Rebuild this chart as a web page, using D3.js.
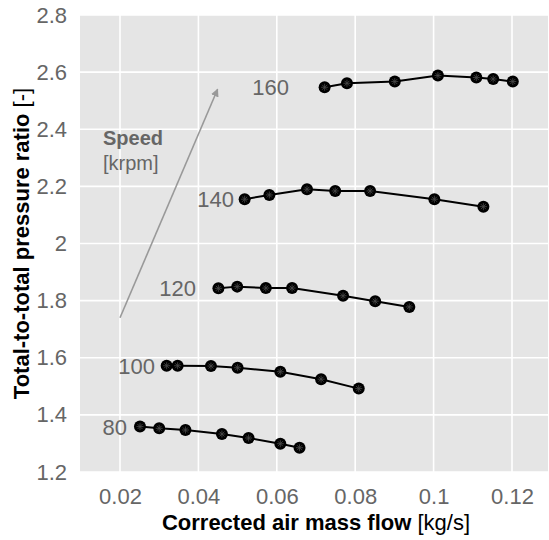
<!DOCTYPE html>
<html>
<head>
<meta charset="utf-8">
<script src="https://cdn.jsdelivr.net/npm/d3@7"></script>
<style>
    body { margin: 0; background: #fff; }
    svg text { font-family: "Liberation Sans", Arial, Helvetica, sans-serif; }
</style>
</head>
<body>
<div id="chart"></div>
<script>
// speed lines [krpm]
const speeds = [80, 100, 120, 140, 160]

// corrected air mass flow [kg/s] per speed line
const flow80 = [0.0251, 0.0300, 0.0367, 0.0460, 0.0528, 0.0609, 0.0658]
const flow100 = [0.0319, 0.0347, 0.0432, 0.0500, 0.0609, 0.0713, 0.0809]
const flow120 = [0.0451, 0.0499, 0.0572, 0.0639, 0.0769, 0.0851, 0.0938]
const flow140 = [0.0518, 0.0581, 0.0677, 0.0749, 0.0838, 0.1002, 0.1127]
const flow160 = [0.0722, 0.0779, 0.0901, 0.1011, 0.1109, 0.1152, 0.1202]

// total-to-total pressure ratio per speed line
const pr80 = [1.359, 1.353, 1.347, 1.333, 1.319, 1.299, 1.285]
const pr100 = [1.572, 1.572, 1.571, 1.565, 1.551, 1.525, 1.492]
const pr120 = [1.843, 1.849, 1.844, 1.844, 1.817, 1.798, 1.778]
const pr140 = [2.155, 2.170, 2.190, 2.184, 2.184, 2.155, 2.129]
const pr160 = [2.547, 2.561, 2.567, 2.588, 2.581, 2.576, 2.567]

// where the speed labels end (flow value)
const labelFlow = [0.0218, 0.0289, 0.0394, 0.0491, 0.0631]

const xTicks = [0.02, 0.04, 0.06, 0.08, 0.1, 0.12]
const yTicks = [1.2, 1.4, 1.6, 1.8, 2, 2.2, 2.4, 2.6, 2.8]

// speed arrow: start and end in data units
const arrowFlow = [0.02, 0.0449]
const arrowPr = [1.74, 2.54]

const flows = [flow80, flow100, flow120, flow140, flow160]
const prs = [pr80, pr100, pr120, pr140, pr160]

const width = 549
const height = 540
const panel = { left: 80, right: 548, top: 15, bottom: 472 }

const x = d3.scaleLinear().domain([0.01, 0.13]).range([80.8, 551.2])
const y = d3.scaleLinear().domain([1.2, 2.8]).range([panel.bottom, panel.top])

const svg = d3.select('#chart')
    .append('svg')
    .attr('width', width)
    .attr('height', height)

svg.append('defs').append('clipPath')
    .attr('id', 'clip')
    .append('rect')
    .attr('x', panel.left)
    .attr('y', panel.top)
    .attr('width', panel.right - panel.left)
    .attr('height', panel.bottom - panel.top)

svg.append('defs').append('marker')
    .attr('id', 'head')
    .attr('viewBox', '0 0 10 10')
    .attr('refX', 9)
    .attr('refY', 5)
    .attr('markerWidth', 5)
    .attr('markerHeight', 5)
    .attr('orient', 'auto')
    .append('path')
    .attr('d', 'M0,0 L10,5 L0,10 Z')
    .attr('fill', '#999')

svg.append('rect')
    .attr('x', panel.left)
    .attr('y', panel.top)
    .attr('width', panel.right - panel.left)
    .attr('height', panel.bottom - panel.top)
    .attr('fill', '#e5e5e5')

const plot = svg.append('g').attr('clip-path', 'url(#clip)')

// grid
plot.selectAll('.gx')
    .data(xTicks)
    .enter()
    .append('line')
    .attr('x1', (d) => x(d))
    .attr('x2', (d) => x(d))
    .attr('y1', panel.top)
    .attr('y2', panel.bottom)
    .attr('stroke', '#fff')
    .attr('stroke-width', 1.6)
plot.selectAll('.gy')
    .data(yTicks)
    .enter()
    .append('line')
    .attr('y1', (d) => y(d))
    .attr('y2', (d) => y(d))
    .attr('x1', panel.left)
    .attr('x2', panel.right)
    .attr('stroke', '#fff')
    .attr('stroke-width', 1.6)

// axes (labels only, no domain or tick marks)
const xAxis = svg.append('g')
    .attr('transform', `translate(0, ${panel.bottom})`)
    .call(d3.axisBottom(x).tickValues(xTicks).tickFormat(d3.format('~g')).tickSize(0).tickPadding(16))
const yAxis = svg.append('g')
    .attr('transform', `translate(${panel.left}, 0)`)
    .call(d3.axisLeft(y).tickValues(yTicks).tickFormat(d3.format('~g')).tickSize(0).tickPadding(13))
for (const ax of [xAxis, yAxis]) {
    ax.select('.domain').remove()
    ax.selectAll('text')
        .attr('font-size', 22)
        .attr('fill', '#666')
        .attr('font-family', '"Liberation Sans", Arial, sans-serif')
}

// speed arrow
plot.append('line')
    .attr('x1', x(arrowFlow[0]))
    .attr('y1', y(arrowPr[0]))
    .attr('x2', x(arrowFlow[1]))
    .attr('y2', y(arrowPr[1]))
    .attr('stroke', '#999')
    .attr('stroke-width', 1.6)
    .attr('marker-end', 'url(#head)')

const line = d3.line()
    .x((d) => x(d[0]))
    .y((d) => y(d[1]))

speeds.forEach((s, i) => {
    const pts = flows[i].map((f, j) => [f, prs[i][j]])
    plot.append('path')
        .datum(pts)
        .attr('d', line)
        .attr('fill', 'none')
        .attr('stroke', '#000')
        .attr('stroke-width', 2)

    const g = plot.selectAll('.p' + s)
        .data(pts)
        .enter()
        .append('g')
        .attr('transform', (d) => `translate(${x(d[0])}, ${y(d[1])})`)
    g.append('circle')
        .attr('r', 6)
        .attr('fill', '#000')
    // small star inside each point
    ;[0, 45, 90, 135].forEach((a) => {
        g.append('line')
            .attr('x1', -3.5).attr('x2', 3.5)
            .attr('y1', 0).attr('y2', 0)
            .attr('transform', `rotate(${a})`)
            .attr('stroke', '#4a4a4a')
            .attr('stroke-width', 0.8)
    })

    svg.append('text')
        .attr('x', x(labelFlow[i]))
        .attr('y', y(prs[i][0]))
        .attr('dy', '0.36em')
        .attr('text-anchor', 'end')
        .attr('font-size', 22)
        .attr('fill', '#666')
        .text(s)
})

// Speed [krpm] note
svg.append('text')
    .attr('x', 103)
    .attr('y', 145)
    .attr('font-size', 20)
    .attr('font-weight', 'bold')
    .attr('fill', '#666')
    .text('Speed')
svg.append('text')
    .attr('x', 103)
    .attr('y', 170)
    .attr('font-size', 20)
    .attr('fill', '#666')
    .text('[krpm]')

// axis titles
const xt = svg.append('text')
    .attr('x', (panel.left + panel.right) / 2 + 2)
    .attr('y', 530)
    .attr('text-anchor', 'middle')
    .attr('font-size', 22)
    .attr('fill', '#000')
xt.append('tspan').attr('font-weight', 'bold').text('Corrected air mass flow')
xt.append('tspan').text(' [kg/s]')

const yt = svg.append('text')
    .attr('transform', `translate(29, ${(panel.top + panel.bottom) / 2}) rotate(-90)`)
    .attr('text-anchor', 'middle')
    .attr('font-size', 22)
    .attr('fill', '#000')
yt.append('tspan').attr('font-weight', 'bold').text('Total-to-total pressure ratio')
yt.append('tspan').text(' [-]')
</script>
</body>
</html>
